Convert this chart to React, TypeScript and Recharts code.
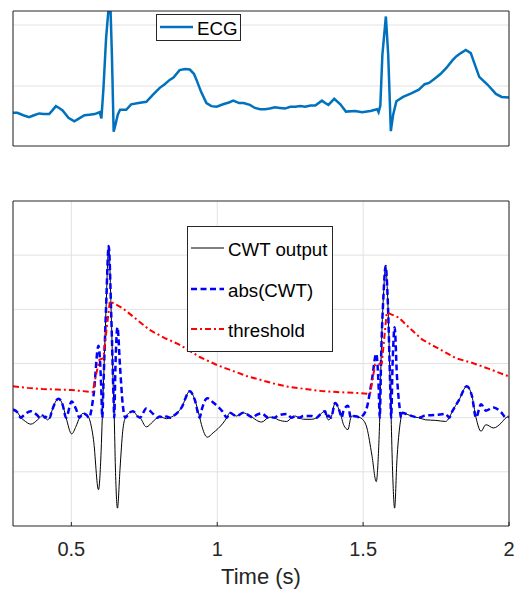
import React from 'react';
import { LineChart, Line, XAxis, YAxis, CartesianGrid, Legend, Label, ReferenceLine } from 'recharts';

// ---------- data ----------
const ecgTime = [
  0.3, 0.315, 0.335, 0.355, 0.372, 0.39, 0.405, 0.424, 0.435, 0.447, 0.458, 0.47, 0.49, 0.51,
  0.527, 0.545, 0.562, 0.58, 0.597, 0.603, 0.61, 0.619, 0.628, 0.634, 0.639, 0.645, 0.651,
  0.659, 0.667, 0.688, 0.705, 0.73, 0.757, 0.78, 0.803, 0.82, 0.837, 0.85, 0.871, 0.89, 0.906,
  0.92, 0.929, 0.945, 0.963, 0.98, 0.998, 1.02, 1.04, 1.055, 1.075, 1.09, 1.112, 1.129, 1.147,
  1.164, 1.18, 1.198, 1.215, 1.232, 1.25, 1.267, 1.285, 1.301, 1.32, 1.336, 1.359, 1.37, 1.381,
  1.401, 1.422, 1.441, 1.473, 1.496, 1.525, 1.548, 1.553, 1.559, 1.566, 1.578, 1.586, 1.595,
  1.603, 1.614, 1.637, 1.665, 1.691, 1.711, 1.726, 1.745, 1.766, 1.786, 1.806, 1.82, 1.835,
  1.852, 1.869, 1.883, 1.898, 1.927, 1.955, 1.975, 2.0,
];
const ecgValues = [
  -0.44, -0.44, -0.48, -0.51, -0.48, -0.45, -0.46, -0.46, -0.4, -0.33, -0.36, -0.4, -0.52, -0.58,
  -0.53, -0.48, -0.47, -0.46, -0.43, -0.53, -0.04, 0.78, 1.3, 1.3, 0.51, -0.75, -0.64,
  -0.47, -0.39, -0.39, -0.3, -0.28, -0.26, -0.14, -0.03, 0.03, 0.1, 0.14, 0.26, 0.28, 0.27,
  0.2, 0.1, -0.1, -0.28, -0.33, -0.34, -0.3, -0.27, -0.24, -0.28, -0.28, -0.31, -0.36, -0.38,
  -0.38, -0.37, -0.35, -0.36, -0.37, -0.34, -0.34, -0.33, -0.34, -0.32, -0.32, -0.24, -0.28, -0.31,
  -0.21, -0.3, -0.42, -0.41, -0.43, -0.41, -0.38, -0.43, -0.32, 0.51, 1.14, 0.51, -0.74,
  -0.47, -0.25, -0.18, -0.12, -0.06, 0.03, 0.05, 0.12, 0.2, 0.3, 0.42, 0.49, 0.54,
  0.59, 0.54, 0.35, 0.15, 0.02, -0.13, -0.18, -0.19,
];

const cwtTime = [
  0.3, 0.315, 0.327, 0.338, 0.361, 0.384, 0.392, 0.401, 0.41, 0.418, 0.426, 0.433, 0.456, 0.47,
  0.482, 0.501, 0.516, 0.528, 0.54, 0.552, 0.56, 0.576, 0.593, 0.602, 0.606, 0.61, 0.619, 0.628,
  0.637, 0.645, 0.647, 0.651, 0.658, 0.667, 0.676, 0.685, 0.699, 0.711, 0.728, 0.735, 0.757,
  0.78, 0.795, 0.803, 0.815, 0.826, 0.838, 0.849, 0.877, 0.906, 0.923, 0.94, 0.946, 0.966,
  0.986, 1.02, 1.033, 1.043, 1.066, 1.089, 1.112, 1.122, 1.135, 1.152, 1.175, 1.181, 1.195,
  1.209, 1.238, 1.255, 1.267, 1.28, 1.296, 1.324, 1.34, 1.353, 1.37, 1.376, 1.381, 1.39, 1.404,
  1.421, 1.426, 1.433, 1.448, 1.458, 1.464, 1.479, 1.49, 1.496, 1.513, 1.53, 1.545, 1.553,
  1.557, 1.562, 1.57, 1.577, 1.585, 1.593, 1.596, 1.601, 1.608, 1.616, 1.625, 1.63, 1.635,
  1.651, 1.68, 1.69, 1.714, 1.749, 1.783, 1.795, 1.806, 1.829, 1.855, 1.873, 1.887, 1.904,
  1.921, 1.947, 1.973, 1.99, 2.0,
];
const cwtValues = [
  0.15, 0.1, 0.0, -0.05, -0.12, -0.04, 0.0, 0.04, 0.0, -0.04, 0.0, 0.12, 0.35, 0.24,
  0.0, -0.3, -0.16, 0.0, 0.08, 0.05, 0.0, -0.41, -1.33, -0.62, 0.0, 0.61, 2.03, 3.17,
  1.85, 0.3, 0.0, -0.93, -1.67, -0.93, -0.25, 0.0, 0.09, 0.12, 0.02, 0.0, -0.17,
  -0.07, 0.0, 0.02, 0.0, -0.02, 0.0, 0.03, 0.18, 0.49, 0.33, 0.0, -0.13, -0.36,
  -0.28, -0.1, 0.0, 0.09, 0.03, 0.09, 0.03, 0.0, -0.05, -0.08, 0.0, 0.01, 0.0,
  -0.04, -0.07, 0.0, 0.03, 0.0, -0.03, -0.03, 0.0, 0.06, 0.12, 0.0, -0.04, 0.0, 0.27,
  0.09, 0.0, -0.13, -0.22, 0.0, 0.03, 0.02, 0.0, -0.02, -0.19, -0.69, -1.18, -0.6,
  0.0, 1.17, 2.28, 2.8, 2.09, 0.55, 0.0, -0.99, -1.67, -0.77, -0.19, 0.0, 0.09,
  0.06, 0.01, 0.0, -0.04, -0.05, -0.07, 0.0, 0.12, 0.33, 0.58, 0.4, 0.0, -0.25,
  -0.13, -0.19, -0.1, 0.0, 0.02,
];
const absCwtValues = [
  0.15, 0.1, 0.0, 0.05, 0.12, 0.04, 0.0, 0.04, 0.0, 0.04, 0.0, 0.12, 0.35, 0.24,
  0.0, 0.3, 0.16, 0.0, 0.08, 0.05, 0.0, 0.41, 1.33, 0.62, 0.0, 0.61, 2.03, 3.17,
  1.85, 0.3, 0.0, 0.93, 1.67, 0.93, 0.25, 0.0, 0.09, 0.12, 0.02, 0.0, 0.17,
  0.07, 0.0, 0.02, 0.0, 0.02, 0.0, 0.03, 0.18, 0.49, 0.33, 0.0, 0.13, 0.36,
  0.28, 0.1, 0.0, 0.09, 0.03, 0.09, 0.03, 0.0, 0.05, 0.08, 0.0, 0.01, 0.0,
  0.04, 0.07, 0.0, 0.03, 0.0, 0.03, 0.03, 0.0, 0.06, 0.12, 0.0, 0.04, 0.0, 0.27,
  0.09, 0.0, 0.13, 0.22, 0.0, 0.03, 0.02, 0.0, 0.02, 0.19, 0.69, 1.18, 0.6,
  0.0, 1.17, 2.28, 2.8, 2.09, 0.55, 0.0, 0.99, 1.67, 0.77, 0.19, 0.0, 0.09,
  0.06, 0.01, 0.0, 0.04, 0.05, 0.07, 0.0, 0.12, 0.33, 0.58, 0.4, 0.0, 0.25,
  0.13, 0.19, 0.1, 0.0, 0.02,
];

const thresholdTime = [
  0.3, 0.35, 0.4, 0.45, 0.5, 0.54, 0.573, 0.585, 0.596, 0.61, 0.62, 0.632, 0.676, 0.72,
  0.768, 0.82, 0.87, 0.94, 1.0, 1.055, 1.1, 1.147, 1.2, 1.244, 1.301, 1.359, 1.42, 1.47,
  1.524, 1.541, 1.564, 1.581, 1.622, 1.66, 1.703, 1.76, 1.817, 1.875, 1.932, 2.0,
];
const thresholdValues = [
  0.58, 0.55, 0.53, 0.52, 0.51, 0.49, 0.47, 0.8, 1.07, 1.1, 1.6, 2.15, 2.02, 1.83,
  1.62, 1.47, 1.35, 1.12, 0.97, 0.86, 0.77, 0.7, 0.62, 0.57, 0.53, 0.49, 0.47, 0.46,
  0.44, 0.98, 1.0, 1.94, 1.85, 1.65, 1.44, 1.27, 1.1, 1.01, 0.9, 0.76,
];

const xTicks = [0.5, 1, 1.5, 2];
const xTickLabels = ['0.5', '1', '1.5', '2'];
const ecgYTicks = [0, 1];
const cwtYTicks = [-1, 0, 1, 2, 3];

const ecgData = ecgTime.map((t, i) => ({ t, ecg: ecgValues[i] }));
const cwtData = cwtTime.map((t, i) => ({ t, cwt: cwtValues[i], abs: absCwtValues[i] }));
const thresholdData = thresholdTime.map((t, i) => ({ t, threshold: thresholdValues[i] }));

// ---------- styles ----------
const FONT = '"Liberation Sans", Arial, Helvetica, sans-serif';
const AXIS = '#262626';
const GRID = '#e2e2e2';

type LegendItem = { name: string; color: string; width: number; dash?: string };

const ecgLegend: LegendItem[] = [{ name: 'ECG', color: '#0072BD', width: 2.5 }];
const cwtLegend: LegendItem[] = [
  { name: 'CWT output', color: '#000000', width: 1 },
  { name: 'abs(CWT)', color: '#0000FF', width: 2.5, dash: '6 3.5' },
  { name: 'threshold', color: '#FF0000', width: 2, dash: '6 3 2 3' },
];

const LegendBox = ({ items, width, height, rows }: { items: LegendItem[]; width: number; height: number; rows: number[] }) => (
  <svg width={width} height={height} style={{ display: 'block' }}>
    <rect x={0.5} y={0.5} width={width - 1} height={height - 1} fill="#fff" stroke={AXIS} strokeWidth={1} />
    {items.map((it, i) => (
      <g key={it.name}>
        <line x1={4} x2={37} y1={rows[i]} y2={rows[i]} stroke={it.color} strokeWidth={it.width} strokeDasharray={it.dash} />
        <text x={41} y={rows[i] + 7.5} fontSize={18.7} fontFamily={FONT} fill="#000">{it.name}</text>
      </g>
    ))}
  </svg>
);

const gridLinesY = (ticks: number[]) =>
  ticks.map((v) => (
    <ReferenceLine key={`gy${v}`} xAxisId="b" yAxisId="l" y={v} stroke={GRID} strokeWidth={1} />
  ));

const frameAxes = (yDomain: number[], yTicks: number[], showXLabels: boolean) => [
  <XAxis
    key="xb"
    xAxisId="b"
    type="number"
    dataKey="t"
    domain={[0.3, 2]}
    ticks={xTicks}
    interval={0}
    allowDataOverflow
    orientation="bottom"
    height={1}
    tickSize={-4}
    tickMargin={20}
    stroke={AXIS}
    axisLine={{ stroke: AXIS }}
    tickLine={{ stroke: AXIS }}
    tick={showXLabels ? { fontSize: 20, fill: AXIS, fontFamily: FONT } : false}
    tickFormatter={(v: number) => xTickLabels[xTicks.indexOf(v)] ?? String(v)}
  >
    {showXLabels ? (
      <Label value="Time (s)" position="bottom" offset={41} style={{ fontSize: 22, fill: AXIS, fontFamily: FONT }} />
    ) : null}
  </XAxis>,
  <XAxis
    key="xt"
    xAxisId="t"
    type="number"
    dataKey="t"
    domain={[0.3, 2]}
    ticks={xTicks}
    interval={0}
    allowDataOverflow
    orientation="top"
    height={1}
    tickSize={-4}
    stroke={AXIS}
    axisLine={{ stroke: AXIS }}
    tickLine={{ stroke: AXIS }}
    tick={false}
  />,
  <YAxis
    key="yl"
    yAxisId="l"
    type="number"
    domain={yDomain}
    ticks={yTicks}
    interval={0}
    allowDataOverflow
    orientation="left"
    width={1}
    tickSize={-4}
    stroke={AXIS}
    axisLine={{ stroke: AXIS }}
    tickLine={{ stroke: AXIS }}
    tick={false}
  />,
  <YAxis
    key="yr"
    yAxisId="r"
    type="number"
    domain={yDomain}
    ticks={yTicks}
    interval={0}
    allowDataOverflow
    orientation="right"
    width={1}
    tickSize={-4}
    stroke={AXIS}
    axisLine={{ stroke: AXIS }}
    tickLine={{ stroke: AXIS }}
    tick={false}
  />,
];

export default function App() {
  return (
    <div style={{ position: 'absolute', left: 0, top: 0, width: 515, height: 590, background: '#fff', fontFamily: FONT }}>
      <div style={{ position: 'absolute', left: 0, top: 0 }}>
        <LineChart width={515} height={160} data={ecgData} margin={{ top: 10, right: 5, bottom: 13, left: 12 }}>
          <CartesianGrid xAxisId="b" yAxisId="l" horizontal={false} stroke={GRID} strokeWidth={1} />
          {gridLinesY(ecgYTicks)}
          {frameAxes([-0.984, 1.23], ecgYTicks, false)}
          <Line
            xAxisId="b"
            yAxisId="l"
            type="linear"
            dataKey="ecg"
            name="ECG"
            stroke="#0072BD"
            strokeWidth={2.5}
            dot={false}
            activeDot={false}
            isAnimationActive={false}
          />
          <Legend
            layout="vertical"
            verticalAlign="middle"
            align="center"
            wrapperStyle={{ left: 156, top: 14, width: 85, height: 27 }}
            content={() => <LegendBox items={ecgLegend} width={85} height={27} rows={[13]} />}
          />
        </LineChart>
      </div>
      <div style={{ position: 'absolute', left: 0, top: 190 }}>
        <LineChart width={515} height={400} data={cwtData} margin={{ top: 10, right: 5, bottom: 63, left: 12 }}>
          <CartesianGrid xAxisId="b" yAxisId="l" horizontal={false} stroke={GRID} strokeWidth={1} />
          {gridLinesY(cwtYTicks)}
          {frameAxes([-2, 4], cwtYTicks, true)}
          <Line
            xAxisId="b"
            yAxisId="l"
            type="monotone"
            dataKey="cwt"
            name="CWT output"
            stroke="#000000"
            strokeWidth={1}
            dot={false}
            activeDot={false}
            isAnimationActive={false}
          />
          <Line
            xAxisId="b"
            yAxisId="l"
            type="monotone"
            dataKey="abs"
            name="abs(CWT)"
            stroke="#0000FF"
            strokeWidth={2.5}
            strokeDasharray="6 3.5"
            dot={false}
            activeDot={false}
            isAnimationActive={false}
          />
          <Line
            xAxisId="b"
            yAxisId="l"
            type="linear"
            data={thresholdData}
            dataKey="threshold"
            name="threshold"
            stroke="#FF0000"
            strokeWidth={2}
            strokeDasharray="6 3 2 3"
            dot={false}
            activeDot={false}
            isAnimationActive={false}
          />
          <Legend
            layout="vertical"
            verticalAlign="middle"
            align="center"
            wrapperStyle={{ left: 187, top: 36, width: 146, height: 126 }}
            content={() => <LegendBox items={cwtLegend} width={146} height={126} rows={[22, 63, 103]} />}
          />
        </LineChart>
      </div>
    </div>
  );
}
